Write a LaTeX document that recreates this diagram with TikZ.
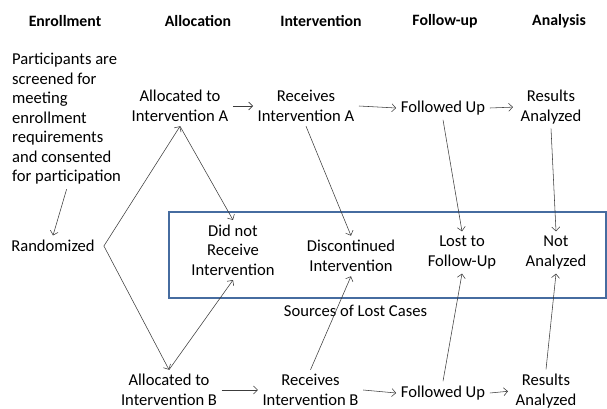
\documentclass[tikz,border=0pt]{standalone}
\usepackage{fontspec}
\setmainfont{Carlito}
\usetikzlibrary{arrows.meta}
\definecolor{boxblue}{RGB}{70,108,160}
\definecolor{lncol}{RGB}{60,60,60}
\begin{document}
\begin{tikzpicture}[x=1pt,y=-1pt,
  lbl/.style={font=\fontsize{16.6}{19.5}\selectfont, align=center, inner sep=4.5pt},
  hdr/.style={font=\fontsize{15.8}{19}\selectfont\bfseries, inner sep=2pt},
  arr/.style={draw=lncol, line width=0.55pt, -{Straight Barb[length=4pt,width=8pt]}},
  ln/.style={draw=lncol, line width=0.55pt}]
\useasboundingbox (0,0) rectangle (607,409);
% headers
\node[hdr] (h1) at (65,21) {Enrollment};
\node[hdr] (h2) at (198,21) {Allocation};
\node[hdr] (h3) at (321,21) {Intervention};
\node[hdr] (h4) at (445,21) {Follow-up};
\node[hdr] (h5) at (559,21) {Analysis};
% lost cases box
\node[draw=boxblue, line width=1.6pt, minimum width=437pt, minimum height=86pt, inner sep=0pt] (box) at (387.5,255) {};
% nodes
\node[lbl, align=left, anchor=west] (part) at (7.5,119) {Participants are\\screened for\\meeting\\enrollment\\requirements\\and consented\\for participation};
\node[lbl, inner xsep=9pt] (rand) at (53,246) {Randomized};
\node[lbl] (alA) at (180,106) {Allocated to\\Intervention A};
\node[lbl] (alB) at (169,390) {Allocated to\\Intervention B};
\node[lbl] (rcA) at (306,106) {Receives\\Intervention A};
\node[lbl] (rcB) at (310.5,390) {Receives\\Intervention B};
\node[lbl] (fuA) at (443,108) {Followed Up};
\node[lbl] (fuB) at (443,393) {Followed Up};
\node[lbl] (raA) at (551,107) {Results\\Analyzed};
\node[lbl] (raB) at (546,391) {Results\\Analyzed};
\node[lbl] (dnr) at (233,250) {Did not\\Receive\\Intervention};
\node[lbl] (dsc) at (351,256) {Discontinued\\Intervention};
\node[lbl] (ltf) at (462,252.5) {Lost to\\Follow-Up};
\node[lbl] (nan) at (556,252.5) {Not\\Analyzed};
\node[lbl] (src) at (355.5,311) {Sources of Lost Cases};
% connectors
\draw[arr] (part.south) -- (rand.north);
\draw[arr] (rand.east) -- (alA.south);
\draw[arr] (rand.east) -- (alB.north);
\draw[arr] (alA.south) -- (dnr.north);
\draw[arr] (alB.north) -- (dnr.south);
\draw[arr] (rcA.south) -- (dsc.north);
\draw[arr] (rcB.north) -- (dsc.south);
\draw[arr] (fuA.south) -- (ltf.north);
\draw[arr] (fuB.north) -- (ltf.south);
\draw[arr] (raA.south) -- (nan.north);
\draw[arr] (raB.north) -- (nan.south);
\draw[arr] (alA.east) -- (rcA.west);
\draw[arr] (rcA.east) -- (fuA.west);
\draw[arr, shorten >=3pt] (fuA.east) -- (raA.west);
\draw[arr] (alB.east) -- (rcB.west);
\draw[arr] (rcB.east) -- (fuB.west);
\draw[arr, shorten >=3pt] (fuB.east) -- (raB.west);
\end{tikzpicture}
\end{document}
